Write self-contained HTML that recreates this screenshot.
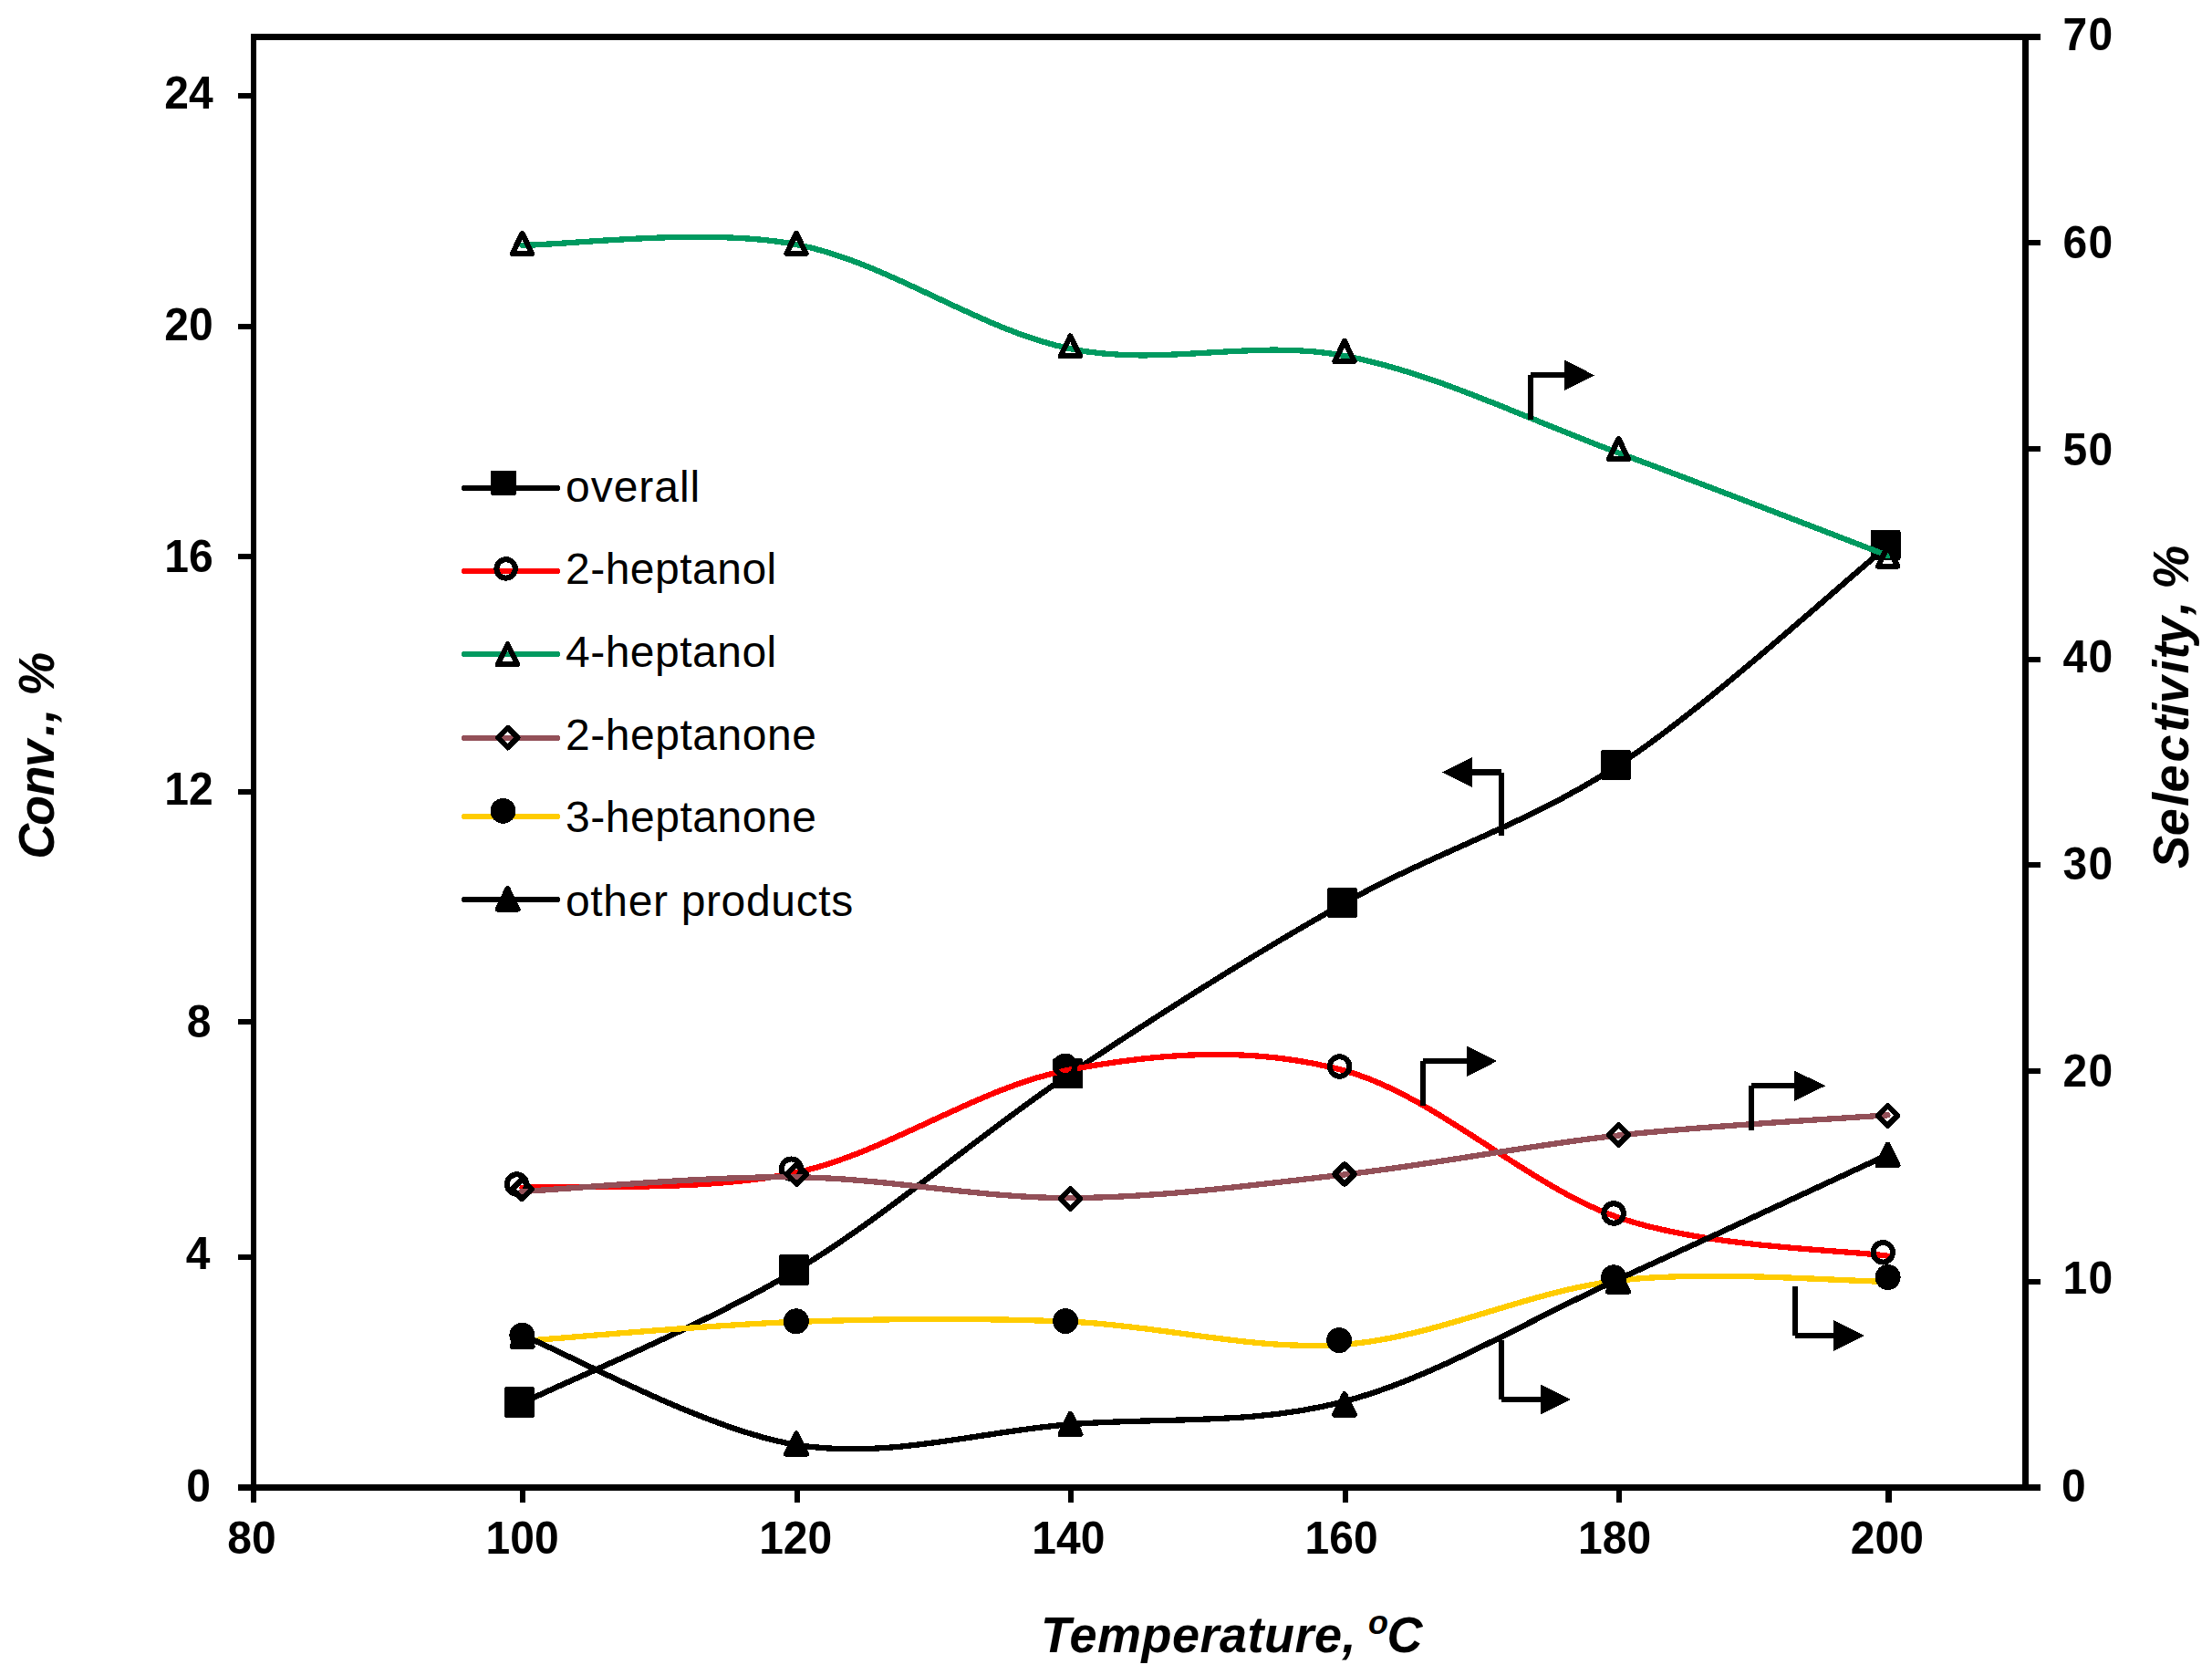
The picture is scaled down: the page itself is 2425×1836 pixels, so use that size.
<!DOCTYPE html>
<html lang="en"><head><meta charset="utf-8"><title>Conversion and selectivity vs temperature</title><style>html,body{margin:0;padding:0;background:#fff}body{width:2425px;height:1836px;overflow:hidden}</style></head><body>
<svg width="2425" height="1836" viewBox="0 0 2425 1836" style="display:block" shape-rendering="crispEdges">
<rect width="2425" height="1836" fill="#fff"/>
<g fill="#000" shape-rendering="crispEdges"><rect x="275" y="37" width="6" height="1610"/><rect x="275" y="37" width="1962" height="7"/><rect x="2217" y="37" width="7" height="1597"/><rect x="261" y="1627" width="1976" height="7"/><rect x="261" y="102" width="15" height="6"/><rect x="261" y="354.8" width="15" height="6"/><rect x="261" y="606.8" width="15" height="6"/><rect x="261" y="864.7" width="15" height="6"/><rect x="261" y="1116.7" width="15" height="6"/><rect x="261" y="1374.8" width="15" height="6"/><rect x="2223" y="263" width="14" height="6"/><rect x="2223" y="488.7" width="14" height="6"/><rect x="2223" y="719.6" width="14" height="6"/><rect x="2223" y="944.7" width="14" height="6"/><rect x="2223" y="1170.9" width="14" height="6"/><rect x="2223" y="1402" width="14" height="6"/><rect x="569.9" y="1633" width="6.2" height="14"/><rect x="870.7" y="1633" width="6.2" height="14"/><rect x="1170.8" y="1633" width="6.2" height="14"/><rect x="1471.5" y="1633" width="6.2" height="14"/><rect x="1771.7" y="1633" width="6.2" height="14"/><rect x="2067.4" y="1633" width="6.2" height="14"/></g>
<g font-family='"Liberation Sans", Arial, Helvetica, sans-serif' font-weight="700" font-size="48" fill="#000"><text transform="translate(233.7,118.8) scale(1,1.045)" text-anchor="end">24</text><text transform="translate(233.7,373.25) scale(1,1.045)" text-anchor="end">20</text><text transform="translate(233.7,626.7) scale(1,1.045)" text-anchor="end">16</text><text transform="translate(233.7,882.15) scale(1,1.045)" text-anchor="end">12</text><text transform="translate(231.5,1136.6) scale(1,1.045)" text-anchor="end">8</text><text transform="translate(230.5,1391.05) scale(1,1.045)" text-anchor="end">4</text><text transform="translate(231,1645.5) scale(1,1.045)" text-anchor="end">0</text><text transform="translate(2261.5,55.4) scale(1,1.045)" letter-spacing="1.4">70</text><text transform="translate(2261.5,282.55) scale(1,1.045)" letter-spacing="1.4">60</text><text transform="translate(2261.5,509.7) scale(1,1.045)" letter-spacing="1.4">50</text><text transform="translate(2261.5,736.85) scale(1,1.045)" letter-spacing="1.4">40</text><text transform="translate(2261.5,964) scale(1,1.045)" letter-spacing="1.4">30</text><text transform="translate(2261.5,1191.15) scale(1,1.045)" letter-spacing="1.4">20</text><text transform="translate(2261.5,1418.3) scale(1,1.045)" letter-spacing="1.4">10</text><text transform="translate(2260,1645.65) scale(1,1.045)">0</text><text transform="translate(276,1702.7) scale(1,1.045)" text-anchor="middle">80</text><text transform="translate(572.6,1702.7) scale(1,1.045)" text-anchor="middle">100</text><text transform="translate(872.2,1702.7) scale(1,1.045)" text-anchor="middle">120</text><text transform="translate(1171.4,1702.7) scale(1,1.045)" text-anchor="middle">140</text><text transform="translate(1470.6,1702.7) scale(1,1.045)" text-anchor="middle">160</text><text transform="translate(1770.1,1702.7) scale(1,1.045)" text-anchor="middle">180</text><text transform="translate(2068.8,1702.7) scale(1,1.045)" text-anchor="middle">200</text></g>
<g font-family='"Liberation Sans", Arial, Helvetica, sans-serif' font-weight="700" font-style="italic" font-size="54" fill="#000"><text transform="translate(59,942) rotate(-90) scale(1,1.045)" x="0.2 37 69.4 100.9 135 150.2 165 179.3">Conv., %</text><text transform="translate(2399,951.8) rotate(-90) scale(1,1.045)" x="-0.2 35.6 67.9 83.3 116.2 149.2 166 180.6 213.2 229.3 245.8 277.8 292 306">Selectivity, %</text><text transform="translate(1141,1810.7) scale(1,1.045)" letter-spacing="0.5">Temperature, <tspan x="359" y="-18.85" font-size="36" letter-spacing="0">o</tspan><tspan x="379.5" y="0" letter-spacing="0">C</tspan></text></g>
<path d="M572.5,1537.8 C622.65,1513.5 773.23,1452.18 873.4,1392 C973.57,1331.82 1073.32,1243.78 1173.5,1176.7 C1273.68,1109.62 1374.33,1045.87 1474.5,989.5 C1574.67,933.13 1675.25,903.75 1774.5,838.5 C1873.75,773.25 2020.75,638.08 2070,598" fill="none" stroke="#000" stroke-width="6.3" stroke-linecap="round"/>
<rect x="553" y="1520.25" width="33" height="33.5" rx="2.5" fill="#000"/><rect x="853.9" y="1375.25" width="33" height="33.5" rx="2.5" fill="#000"/><rect x="1154" y="1159.95" width="33" height="33.5" rx="2.5" fill="#000"/><rect x="1455" y="972.75" width="33" height="33.5" rx="2.5" fill="#000"/><rect x="1755" y="821.75" width="33" height="33.5" rx="2.5" fill="#000"/><rect x="2050.5" y="580.75" width="33" height="33.5" rx="2.5" fill="#000"/>
<path d="M572.5,1301.8 C622.58,1299.05 772.95,1306.85 873,1285.3 C973.05,1263.75 1072.7,1191.13 1172.8,1172.5 C1272.9,1153.87 1373.38,1146.5 1473.6,1173.5 C1573.82,1200.5 1674.82,1300.63 1774.1,1334.5 C1873.38,1368.37 2020.1,1369.67 2069.3,1376.7" fill="none" stroke="#ff0000" stroke-width="6.3" stroke-linecap="round"/>
<circle cx="566.5" cy="1298" r="10.75" fill="none" stroke="#000" stroke-width="6"/><circle cx="867.5" cy="1281.2" r="10.75" fill="none" stroke="#000" stroke-width="6"/><circle cx="1167.8" cy="1168.4" r="10.75" fill="none" stroke="#000" stroke-width="6"/><circle cx="1468.6" cy="1169" r="10.75" fill="none" stroke="#000" stroke-width="6"/><circle cx="1769.1" cy="1330" r="10.75" fill="none" stroke="#000" stroke-width="6"/><circle cx="2064.3" cy="1372.8" r="10.75" fill="none" stroke="#000" stroke-width="6"/>
<path d="M572.5,268.8 C622.58,268.67 772.83,249.08 873,268 C973.17,286.92 1073.33,361.97 1173.5,382.3 C1273.67,402.63 1373.83,370.97 1474,390 C1574.17,409.03 1675.23,460 1774.5,496.5 C1873.77,533 2020.42,590.25 2069.6,609" fill="none" stroke="#009a60" stroke-width="6.3" stroke-linecap="round"/>
<path d="M572.5,255.9 L583.25,277.9 L561.75,277.9 Z" fill="none" stroke="#000" stroke-width="6" stroke-linejoin="round"/><path d="M873,255.9 L883.75,277.9 L862.25,277.9 Z" fill="none" stroke="#000" stroke-width="6" stroke-linejoin="round"/><path d="M1173.4,368.4 L1184.15,390.4 L1162.65,390.4 Z" fill="none" stroke="#000" stroke-width="6" stroke-linejoin="round"/><path d="M1474,374 L1484.75,396 L1463.25,396 Z" fill="none" stroke="#000" stroke-width="6" stroke-linejoin="round"/><path d="M1774.5,481 L1785.25,503 L1763.75,503 Z" fill="none" stroke="#000" stroke-width="6" stroke-linejoin="round"/><path d="M2069.6,598.7 L2080.35,620.7 L2058.85,620.7 Z" fill="none" stroke="#000" stroke-width="6" stroke-linejoin="round"/>
<path d="M572.4,1306 C622.55,1303.38 773.12,1289.12 873.3,1290.3 C973.48,1291.48 1073.38,1313.57 1173.5,1313.1 C1273.62,1312.63 1373.85,1298.93 1474,1287.5 C1574.15,1276.07 1675.17,1255.37 1774.4,1244.5 C1873.63,1233.63 2020.23,1226 2069.4,1222.3" fill="none" stroke="#935058" stroke-width="6.3" stroke-linecap="round"/>
<path d="M572.4,1292.7 L583.2,1303.5 L572.4,1314.3 L561.6,1303.5 Z" fill="none" stroke="#000" stroke-width="6" stroke-linejoin="round"/><path d="M873.3,1276.4 L884.1,1287.2 L873.3,1298 L862.5,1287.2 Z" fill="none" stroke="#000" stroke-width="6" stroke-linejoin="round"/><path d="M1173.5,1303.2 L1184.3,1314 L1173.5,1324.8 L1162.7,1314 Z" fill="none" stroke="#000" stroke-width="6" stroke-linejoin="round"/><path d="M1474,1276.2 L1484.8,1287 L1474,1297.8 L1463.2,1287 Z" fill="none" stroke="#000" stroke-width="6" stroke-linejoin="round"/><path d="M1774.4,1233.1 L1785.2,1243.9 L1774.4,1254.7 L1763.6,1243.9 Z" fill="none" stroke="#000" stroke-width="6" stroke-linejoin="round"/><path d="M2069.4,1212.1 L2080.2,1222.9 L2069.4,1233.7 L2058.6,1222.9 Z" fill="none" stroke="#000" stroke-width="6" stroke-linejoin="round"/>
<path d="M572.5,1470 C622.55,1466.48 772.65,1452.45 872.8,1448.9 C972.95,1445.35 1073.2,1444.57 1173.4,1448.7 C1273.6,1452.83 1373.82,1481.22 1474,1473.7 C1574.18,1466.18 1675.23,1415.08 1774.5,1403.6 C1873.77,1392.12 2020.42,1404.6 2069.6,1404.8" fill="none" stroke="#ffcc00" stroke-width="6.3" stroke-linecap="round"/>
<circle cx="572.4" cy="1463.7" r="14" fill="#000"/><circle cx="872.8" cy="1448.3" r="14" fill="#000"/><circle cx="1168.1" cy="1448.1" r="14" fill="#000"/><circle cx="1468.1" cy="1469.2" r="14" fill="#000"/><circle cx="1769.1" cy="1400.3" r="14" fill="#000"/><circle cx="2069.6" cy="1400" r="14" fill="#000"/>
<path d="M572.5,1463.5 C622.58,1483.53 772.83,1567.42 873,1583.7 C973.17,1599.98 1073.33,1569.13 1173.5,1561.2 C1273.67,1553.27 1373.92,1562.58 1474,1536.1 C1574.08,1509.62 1674.75,1447.35 1774,1402.3 C1873.25,1357.25 2020.25,1288.55 2069.5,1265.8" fill="none" stroke="#000" stroke-width="6.3" stroke-linecap="round"/>
<path d="M572.6,1453.25 L583.6,1475.75 L561.6,1475.75 Z" fill="#000" stroke="#000" stroke-width="6" stroke-linejoin="round"/><path d="M873,1571.25 L884,1593.75 L862,1593.75 Z" fill="#000" stroke="#000" stroke-width="6" stroke-linejoin="round"/><path d="M1173.5,1549.75 L1184.5,1572.25 L1162.5,1572.25 Z" fill="#000" stroke="#000" stroke-width="6" stroke-linejoin="round"/><path d="M1474,1528.15 L1485,1550.65 L1463,1550.65 Z" fill="#000" stroke="#000" stroke-width="6" stroke-linejoin="round"/><path d="M1774,1393.25 L1785,1415.75 L1763,1415.75 Z" fill="#000" stroke="#000" stroke-width="6" stroke-linejoin="round"/><path d="M2069.5,1254.65 L2080.5,1277.15 L2058.5,1277.15 Z" fill="#000" stroke="#000" stroke-width="6" stroke-linejoin="round"/>
<path d="M1678,459.7 L1678,411.3 M1678,411.3 L1715,411.3" fill="none" stroke="#000" stroke-width="6.3"/><path d="M1715,394.6 L1748,411.3 L1715,428 Z" fill="#000"/>
<path d="M1646,916 L1646,846.5 M1646,846.5 L1614,846.5" fill="none" stroke="#000" stroke-width="6.3"/><path d="M1614,829.8 L1581,846.5 L1614,863.2 Z" fill="#000"/>
<path d="M1560.2,1211.7 L1560.2,1163.2 M1560.2,1163.2 L1608.3,1163.2" fill="none" stroke="#000" stroke-width="6.3"/><path d="M1608.3,1146.5 L1641,1163.2 L1608.3,1179.9 Z" fill="#000"/>
<path d="M1920,1238.8 L1920,1190.2 M1920,1190.2 L1967.3,1190.2" fill="none" stroke="#000" stroke-width="6.3"/><path d="M1967.3,1173.5 L2001.2,1190.2 L1967.3,1206.9 Z" fill="#000"/>
<path d="M1968.1,1410.2 L1968.1,1464 M1968.1,1464 L2010.3,1464" fill="none" stroke="#000" stroke-width="6.3"/><path d="M2010.3,1447.3 L2044.2,1464 L2010.3,1480.7 Z" fill="#000"/>
<path d="M1646,1469.2 L1646,1534 M1646,1534 L1689.1,1534" fill="none" stroke="#000" stroke-width="6.3"/><path d="M1689.1,1517.3 L1722,1534 L1689.1,1550.7 Z" fill="#000"/>
<path d="M509,534.7 L611,534.7" stroke="#000" stroke-width="6.3" stroke-linecap="round"/>
<rect x="537.85" y="515.8" width="28.3" height="27.2" rx="2.5" fill="#000"/>
<text x="620" y="549.9" font-family='"Liberation Sans", Arial, Helvetica, sans-serif' font-size="48" letter-spacing="0.97" fill="#000">overall</text>
<path d="M509,625.8 L611,625.8" stroke="#ff0000" stroke-width="6.3" stroke-linecap="round"/>
<circle cx="554.6" cy="623.4" r="10.25" fill="none" stroke="#000" stroke-width="6"/>
<text x="620" y="640.2" font-family='"Liberation Sans", Arial, Helvetica, sans-serif' font-size="48" letter-spacing="0.49" fill="#000">2-heptanol</text>
<path d="M509,717 L611,717" stroke="#009a60" stroke-width="6.3" stroke-linecap="round"/>
<path d="M556.5,706.3 L567.25,728.3 L545.75,728.3 Z" fill="none" stroke="#000" stroke-width="6" stroke-linejoin="round"/>
<text x="620" y="731.1" font-family='"Liberation Sans", Arial, Helvetica, sans-serif' font-size="48" letter-spacing="0.49" fill="#000">4-heptanol</text>
<path d="M509,808.8 L611,808.8" stroke="#935058" stroke-width="6.3" stroke-linecap="round"/>
<path d="M556.7,797.8 L567.5,808.6 L556.7,819.4 L545.9,808.6 Z" fill="none" stroke="#000" stroke-width="6" stroke-linejoin="round"/>
<text x="620" y="821.6" font-family='"Liberation Sans", Arial, Helvetica, sans-serif' font-size="48" letter-spacing="0.53" fill="#000">2-heptanone</text>
<path d="M509,894.75 L611,894.75" stroke="#ffcc00" stroke-width="6.3" stroke-linecap="round"/>
<circle cx="551.5" cy="888.9" r="13.9" fill="#000"/>
<text x="620" y="912.3" font-family='"Liberation Sans", Arial, Helvetica, sans-serif' font-size="48" letter-spacing="0.53" fill="#000">3-heptanone</text>
<path d="M509,985.9 L611,985.9" stroke="#000" stroke-width="6.3" stroke-linecap="round"/>
<path d="M556.5,974.15 L567.5,996.65 L545.5,996.65 Z" fill="#000" stroke="#000" stroke-width="6" stroke-linejoin="round"/>
<text x="620" y="1003.5" font-family='"Liberation Sans", Arial, Helvetica, sans-serif' font-size="48" letter-spacing="0.65" fill="#000">other products</text>
</svg>
</body></html>
